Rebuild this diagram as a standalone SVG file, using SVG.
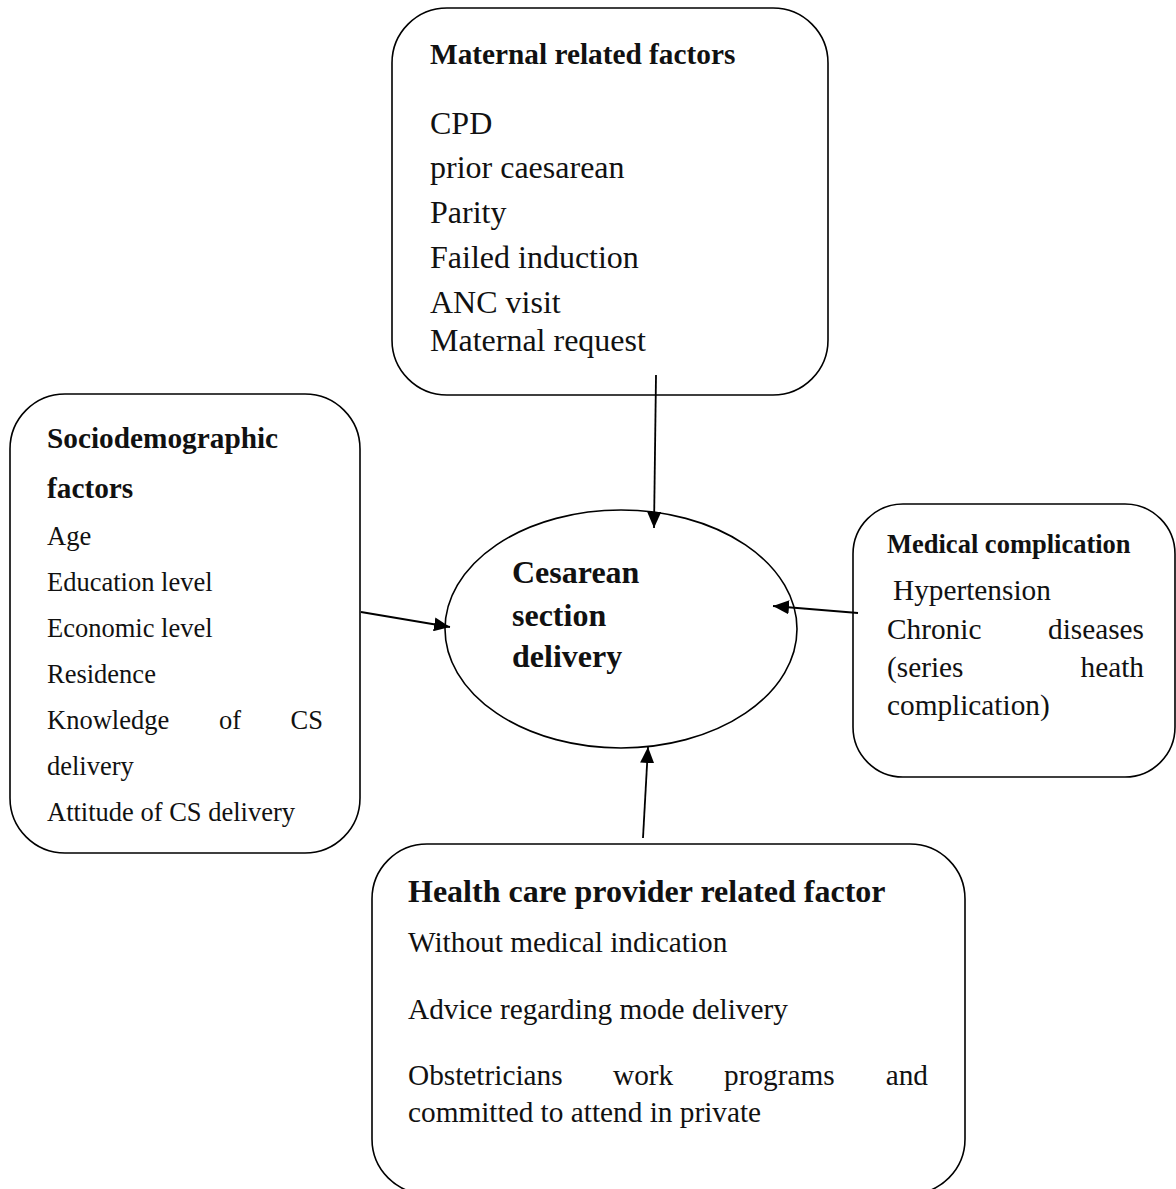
<svg xmlns="http://www.w3.org/2000/svg" width="1176" height="1189" viewBox="0 0 1176 1189">
<defs>
<style>
.box{fill:#fff;stroke:#000;stroke-width:1.6}
.t{font-family:"Liberation Serif","Times New Roman",serif;fill:#111}
.b{font-weight:bold}
.conn{stroke:#000;stroke-width:1.8;fill:none}
</style>
<marker id="ah" markerUnits="userSpaceOnUse" markerWidth="16" markerHeight="14" refX="16" refY="7" orient="auto">
<path d="M0,0 L16,7 L0,14 z" fill="#000"/>
</marker>
</defs>
<rect width="1176" height="1189" fill="#fff"/>
<g id="maternal">
<rect class="box" x="392" y="8" width="436" height="387" rx="55" ry="55"/>
<text class="t b" x="430" y="64" font-size="29.3">Maternal related factors</text>
<g class="t" font-size="32">
<text x="430" y="134">CPD</text>
<text x="430" y="178">prior caesarean</text>
<text x="430" y="223">Parity</text>
<text x="430" y="268">Failed induction</text>
<text x="430" y="313">ANC visit</text>
<text x="430" y="351">Maternal request</text>
</g>
</g>
<g id="sociodemographic">
<rect class="box" x="10" y="394" width="350" height="459" rx="55" ry="55"/>
<text class="t b" x="47" y="448" font-size="29.3">Sociodemographic</text>
<text class="t b" x="47" y="498" font-size="29.3">factors</text>
<g class="t" font-size="26.5">
<text x="47" y="545">Age</text>
<text x="47" y="591">Education level</text>
<text x="47" y="637">Economic level</text>
<text x="47" y="683">Residence</text>
<text x="47" y="729">Knowledge</text>
<text x="219" y="729">of</text>
<text x="323" y="729" text-anchor="end">CS</text>
<text x="47" y="775">delivery</text>
<text x="47" y="821">Attitude of CS delivery</text>
</g>
</g>
<g id="medical">
<rect class="box" x="853" y="504" width="322" height="273" rx="50" ry="50"/>
<text class="t b" x="887" y="553" font-size="26.5">Medical complication</text>
<g class="t" font-size="29.3">
<text x="893" y="600">Hypertension</text>
<text x="887" y="639">Chronic</text>
<text x="1144" y="639" text-anchor="end">diseases</text>
<text x="887" y="677">(series</text>
<text x="1144" y="677" text-anchor="end">heath</text>
<text x="887" y="715">complication)</text>
</g>
</g>
<g id="provider">
<rect class="box" x="372" y="844" width="593" height="350" rx="55" ry="55"/>
<text class="t b" x="408" y="902" font-size="32">Health care provider related factor</text>
<g class="t" font-size="29.3">
<text x="408" y="952">Without medical indication</text>
<text x="408" y="1019">Advice regarding mode delivery</text>
<text x="408" y="1085">Obstetricians</text>
<text x="613" y="1085">work</text>
<text x="724" y="1085">programs</text>
<text x="928" y="1085" text-anchor="end">and</text>
<text x="408" y="1122">committed to attend in private</text>
</g>
</g>
<g id="cesarean">
<ellipse class="box" cx="621" cy="629" rx="176" ry="119"/>
<g class="t b" font-size="32">
<text x="512" y="583">Cesarean</text>
<text x="512" y="626">section</text>
<text x="512" y="667">delivery</text>
</g>
</g>
<g id="connectors">
<line class="conn" x1="656" y1="375" x2="654" y2="528" marker-end="url(#ah)"/>
<line class="conn" x1="361" y1="612" x2="450" y2="627" marker-end="url(#ah)"/>
<line class="conn" x1="858" y1="613" x2="773" y2="606" marker-end="url(#ah)"/>
<line class="conn" x1="643" y1="838" x2="648" y2="747" marker-end="url(#ah)"/>
</g>
</svg>
